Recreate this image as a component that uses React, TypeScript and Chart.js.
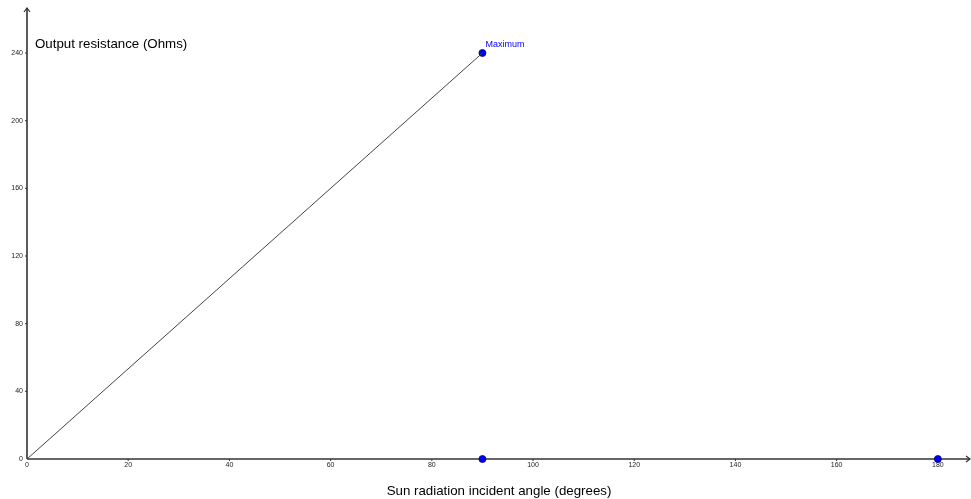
import React, { useEffect, useRef } from "react";
import { Chart, registerables } from "chart.js";

Chart.register(...registerables);

// Resistance rises linearly with incident angle up to the maximum at 90°
const lineAngles = [0, 90];
const lineResistance = [0, 240];

// Marked points: the maximum and the two zero-resistance points on the axis
const pointAngles = [90, 90, 180];
const pointResistance = [240, 0, 0];
const pointNames = ["Maximum", "", ""];

const xTicks = [0, 20, 40, 60, 80, 100, 120, 140, 160, 180];
const yTicks = [0, 40, 80, 120, 160, 200, 240];

const xTitle = "Sun radiation incident angle (degrees)";
const yTitle = "Output resistance (Ohms)";

const AXIS_COLOR = "#333333";
const POINT_COLOR = "#0000ff";
const FONT = "Liberation Sans, Arial, sans-serif";

const axesPlugin = {
  id: "geoAxes",
  beforeDatasetsDraw(chart: any) {
    const { ctx, scales, chartArea } = chart;
    const xs = scales.x;
    const ys = scales.y;
    const x0 = xs.getPixelForValue(0);
    const y0 = ys.getPixelForValue(0);
    const xEnd = chart.width - 1;
    ctx.save();
    ctx.strokeStyle = AXIS_COLOR;
    ctx.fillStyle = AXIS_COLOR;
    ctx.lineWidth = 1.6;
    // x axis
    ctx.beginPath();
    ctx.moveTo(x0, y0);
    ctx.lineTo(xEnd, y0);
    ctx.stroke();
    // y axis
    ctx.beginPath();
    ctx.moveTo(x0, y0);
    ctx.lineTo(x0, chartArea.top);
    ctx.stroke();
    // arrowheads
    ctx.lineWidth = 1.2;
    ctx.beginPath();
    ctx.moveTo(x0 - 3, chartArea.top + 4);
    ctx.lineTo(x0, chartArea.top);
    ctx.lineTo(x0 + 3, chartArea.top + 4);
    ctx.stroke();
    ctx.beginPath();
    ctx.moveTo(xEnd - 4, y0 - 3);
    ctx.lineTo(xEnd, y0);
    ctx.lineTo(xEnd - 4, y0 + 3);
    ctx.stroke();

    // ticks and tick labels
    ctx.lineWidth = 1;
    ctx.fillStyle = "#222222";
    ctx.font = `7px ${FONT}`;
    ctx.textAlign = "center";
    ctx.textBaseline = "top";
    xTicks.forEach((v) => {
      const px = xs.getPixelForValue(v);
      if (v !== 0) {
        ctx.beginPath();
        ctx.moveTo(px, y0);
        ctx.lineTo(px, y0 + 2);
        ctx.stroke();
      }
      ctx.fillText(String(v), px, y0 + 3);
    });
    ctx.textAlign = "right";
    ctx.textBaseline = "middle";
    yTicks.forEach((v) => {
      const py = ys.getPixelForValue(v);
      if (v !== 0) {
        ctx.beginPath();
        ctx.moveTo(x0 - 2, py);
        ctx.lineTo(x0, py);
        ctx.stroke();
      }
      ctx.fillText(String(v), x0 - 4, py);
    });

    // axis titles
    ctx.fillStyle = "#000000";
    ctx.font = `13.3px ${FONT}`;
    ctx.textAlign = "left";
    ctx.textBaseline = "middle";
    ctx.fillText(yTitle, x0 + 8, 44);
    ctx.textAlign = "center";
    ctx.fillText(xTitle, (x0 + chart.width) / 2, chart.height - 8);
    ctx.restore();
  },
  afterDatasetsDraw(chart: any) {
    const { ctx, scales } = chart;
    ctx.save();
    ctx.fillStyle = POINT_COLOR;
    ctx.font = `9px ${FONT}`;
    ctx.textAlign = "left";
    ctx.textBaseline = "alphabetic";
    pointNames.forEach((name, i) => {
      if (!name) return;
      const px = scales.x.getPixelForValue(pointAngles[i]);
      const py = scales.y.getPixelForValue(pointResistance[i]);
      ctx.fillText(name, px + 3, py - 6);
    });
    ctx.restore();
  },
};

export default function App() {
  const canvasRef = useRef<HTMLCanvasElement | null>(null);

  useEffect(() => {
    document.body.style.margin = "0";
    const canvas = canvasRef.current;
    if (!canvas) return;
    const chart = new Chart(canvas, {
      type: "scatter",
      data: {
        datasets: [
          {
            label: "Resistance",
            data: lineAngles.map((x, i) => ({ x, y: lineResistance[i] })),
            showLine: true,
            borderColor: "#444444",
            borderWidth: 1,
            pointRadius: 0,
            clip: false,
          },
          {
            label: "Points",
            data: pointAngles.map((x, i) => ({ x, y: pointResistance[i] })),
            showLine: false,
            pointRadius: 3.5,
            pointBackgroundColor: POINT_COLOR,
            pointBorderColor: "#00006b",
            pointBorderWidth: 0.8,
            clip: false,
          },
        ],
      },
      options: {
        responsive: false,
        animation: false,
        layout: { padding: { left: 27, right: 0, top: 8, bottom: 40 } },
        plugins: {
          legend: { display: false },
          tooltip: { enabled: false },
        },
        scales: {
          x: { type: "linear", min: 0, max: 185.6, display: false },
          y: { type: "linear", min: 0, max: 266.6, display: false },
        },
      },
      plugins: [axesPlugin],
    });
    return () => chart.destroy();
  }, []);

  return (
    <div style={{ position: "fixed", left: 0, top: 0, width: 971, height: 499, background: "#ffffff" }}>
      <canvas ref={canvasRef} width={971} height={499} />
    </div>
  );
}
